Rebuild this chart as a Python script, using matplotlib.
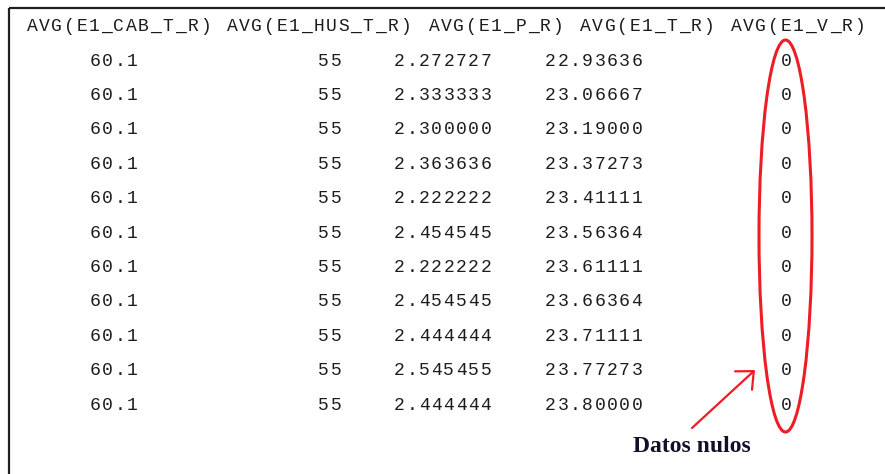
import matplotlib
matplotlib.use("Agg")
import matplotlib.pyplot as plt
from matplotlib.patches import Ellipse

# column headers and table values as they appear in the query output
headers = ["AVG(E1_CAB_T_R)", "AVG(E1_HUS_T_R)", "AVG(E1_P_R)", "AVG(E1_T_R)", "AVG(E1_V_R)"]
cab_t = ["60.1", "60.1", "60.1", "60.1", "60.1", "60.1", "60.1", "60.1", "60.1", "60.1", "60.1"]
hus_t = [55, 55, 55, 55, 55, 55, 55, 55, 55, 55, 55]
p_r = [2.272727, 2.333333, 2.300000, 2.363636, 2.222222, 2.454545,
       2.222222, 2.454545, 2.444444, 2.545455, 2.444444]
t_r = [22.93636, 23.06667, 23.19000, 23.37273, 23.41111, 23.56364,
       23.61111, 23.66364, 23.71111, 23.77273, 23.80000]
v_r = [0, 0, 0, 0, 0, 0, 0, 0, 0, 0, 0]
note = "Datos nulos"

CW = 12.35          # monospace cell width in px
MONO = "Liberation Mono"
TXT = "#1c1c1c"
RED = "#ee1c25"


def mono(ax, s, x, y, ha="left"):
    """draw string on a fixed character grid (wide courier look)"""
    if ha == "right":
        x0 = x - len(s) * CW
    elif ha == "center":
        x0 = x - len(s) * CW / 2
    else:
        x0 = x
    for i, ch in enumerate(s):
        ax.text(x0 + (i + 0.5) * CW, y, ch, ha="center", va="center",
                fontfamily=MONO, fontsize=13, color=TXT)


fig = plt.figure(figsize=(8.85, 4.74), dpi=100)
ax = fig.add_axes([0, 0, 1, 1])
ax.set_xlim(0, 885)
ax.set_ylim(474, 0)
ax.axis("off")

# frame (top and left edges only are visible)
ax.plot([8.5, 8.5], [474, 7.5], color="#202020", lw=1.6, solid_capstyle="butt")
ax.plot([8.5, 885], [7.5, 7.5], color="#202020", lw=1.6, solid_capstyle="butt")

# header row
header_x = [27, 227, 429, 580, 731]
for h, hx in zip(headers, header_x):
    mono(ax, h, hx - 1, 26)

row_y0, row_dy = 61, 34.4
for i in range(len(cab_t)):
    y = row_y0 + i * row_dy
    mono(ax, cab_t[i], 89, y)
    mono(ax, str(hus_t[i]), 342, y, ha="right")
    mono(ax, f"{p_r[i]:.6f}", 492, y, ha="right")
    mono(ax, f"{t_r[i]:.5f}", 643, y, ha="right")
    mono(ax, str(v_r[i]), 786, y, ha="center")

# red annotation around the null column
ax.add_patch(Ellipse((785.5, 236), 53, 392, fill=False, ec=RED, lw=2.2))
ax.annotate("", xy=(755, 370), xytext=(692, 428),
            arrowprops=dict(arrowstyle="->, head_length=0.5, head_width=0.45",
                            color=RED, lw=1.6, mutation_scale=20,
                            shrinkA=0, shrinkB=0))
ax.text(633, 452, note, fontfamily="Liberation Serif", fontweight="bold",
        fontsize=17, color="#10102a", va="baseline", ha="left")

fig.savefig("out.png", dpi=100)
